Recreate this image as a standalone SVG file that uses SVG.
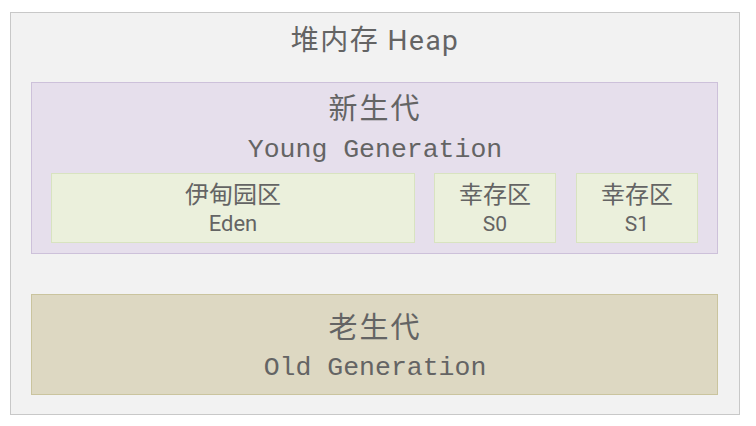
<svg xmlns="http://www.w3.org/2000/svg" width="756" height="426" viewBox="0 0 756 426">
<style>
text{fill:#646464;text-anchor:middle;font-family:"Noto Sans CJK SC","Liberation Sans",sans-serif}
.mono{font-family:"Liberation Mono","Noto Sans CJK SC",monospace}
.cond{font-family:"Roboto","Noto Sans CJK SC",sans-serif}
</style>
<rect width="756" height="426" fill="#fff"/>
<g id="heap">
<rect x="10.5" y="12.5" width="729" height="402" fill="#f2f2f2" stroke="#c8c8c8"/>
<text x="375" y="50" font-size="28" letter-spacing="1.5" class="cond">堆内存 Heap</text>
</g>
<g id="young">
<rect x="31.5" y="82.5" width="686" height="171" fill="#e6dfec" stroke="#cdc1da"/>
<text x="375" y="119" font-size="29" letter-spacing="2" class="mono">新生代</text>
<text x="375" y="157" font-size="26.5" class="mono">Young Generation</text>
</g>
<g id="eden">
<rect x="51.5" y="173.5" width="363" height="69" fill="#ebf0dc" stroke="#d8e3c0"/>
<text x="233" y="203" font-size="24">伊甸园区</text>
<text x="233" y="231" font-size="22" class="cond">Eden</text>
</g>
<g id="s0">
<rect x="434.5" y="173.5" width="121" height="69" fill="#ebf0dc" stroke="#d8e3c0"/>
<text x="495" y="203" font-size="24">幸存区</text>
<text x="495" y="231" font-size="21" class="cond">S0</text>
</g>
<g id="s1">
<rect x="576.5" y="173.5" width="121" height="69" fill="#ebf0dc" stroke="#d8e3c0"/>
<text x="637" y="203" font-size="24">幸存区</text>
<text x="637" y="231" font-size="21" class="cond">S1</text>
</g>
<g id="old">
<rect x="31.5" y="294.5" width="686" height="100" fill="#ddd8c2" stroke="#cac49e"/>
<text x="375" y="338" font-size="29" letter-spacing="2" class="mono">老生代</text>
<text x="375" y="375" font-size="26.5" class="mono">Old Generation</text>
</g>
<g id="connectors"/>
</svg>
